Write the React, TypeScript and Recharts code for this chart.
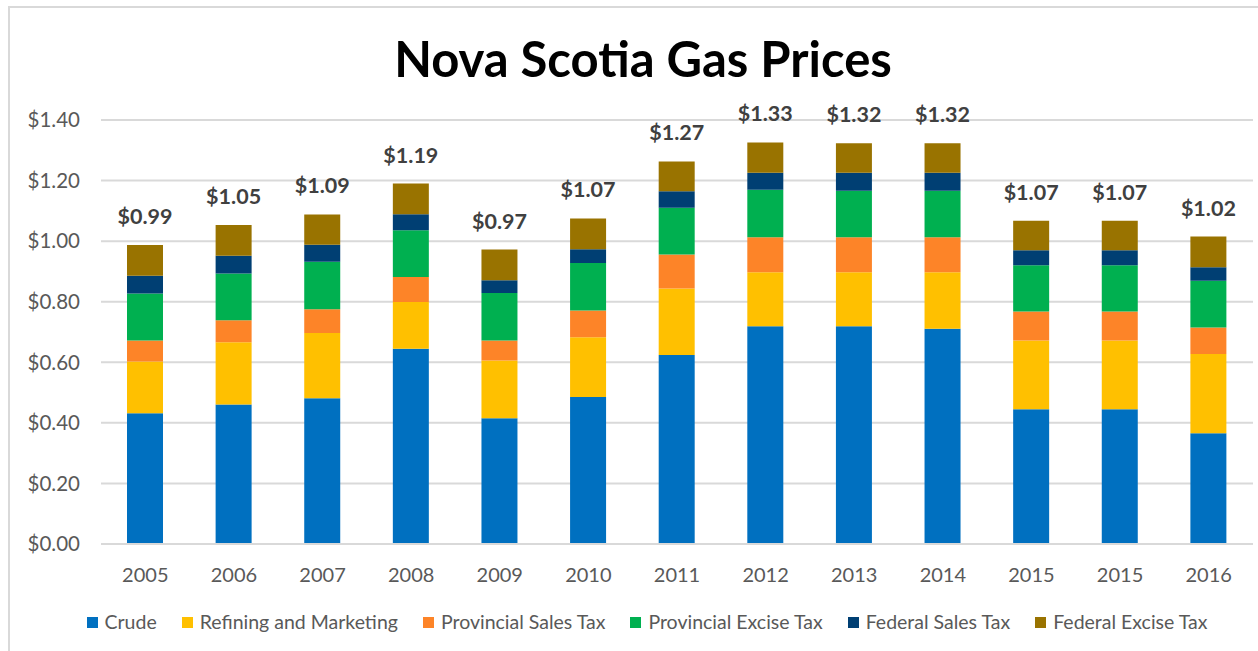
import { Bar, BarChart, CartesianGrid, LabelList, XAxis, YAxis } from "recharts";

const years = ["2005", "2006", "2007", "2008", "2009", "2010", "2011", "2012", "2013", "2014", "2015", "2015", "2016"];
const crude = [0.432, 0.461, 0.481, 0.645, 0.415, 0.485, 0.624, 0.719, 0.719, 0.711, 0.445, 0.445, 0.366];
const refining = [0.171, 0.205, 0.216, 0.154, 0.191, 0.198, 0.22, 0.178, 0.178, 0.186, 0.227, 0.227, 0.261];
const provSales = [0.069, 0.073, 0.078, 0.083, 0.066, 0.088, 0.112, 0.116, 0.116, 0.116, 0.096, 0.096, 0.088];
const provExcise = [0.155, 0.154, 0.157, 0.154, 0.157, 0.157, 0.154, 0.157, 0.153, 0.153, 0.152, 0.152, 0.154];
const fedSales = [0.059, 0.059, 0.056, 0.053, 0.042, 0.045, 0.055, 0.056, 0.06, 0.06, 0.05, 0.05, 0.045];
const fedExcise = [0.101, 0.101, 0.1, 0.101, 0.101, 0.102, 0.098, 0.1, 0.097, 0.097, 0.097, 0.097, 0.101];
const totals = [0.99, 1.05, 1.09, 1.19, 0.97, 1.07, 1.27, 1.33, 1.32, 1.32, 1.07, 1.07, 1.02];
const yTicks = [0, 0.2, 0.4, 0.6, 0.8, 1.0, 1.2, 1.4];

const series = [
  { key: "crude", name: "Crude", color: "#0070C0" },
  { key: "refining", name: "Refining and Marketing", color: "#FFC000" },
  { key: "provSales", name: "Provincial Sales Tax", color: "#FD8428" },
  { key: "provExcise", name: "Provincial Excise Tax", color: "#00B050" },
  { key: "fedSales", name: "Federal Sales Tax", color: "#003F73" },
  { key: "fedExcise", name: "Federal Excise Tax", color: "#997300" },
];

const data = years.map((year, i) => ({
  year,
  crude: crude[i],
  refining: refining[i],
  provSales: provSales[i],
  provExcise: provExcise[i],
  fedSales: fedSales[i],
  fedExcise: fedExcise[i],
}));

const FONT = "Lato, 'Open Sans', sans-serif";

// totals sit ~29px above the top segment, as in the Excel original
function TotalLabel(props: any) {
  const { x, y, width, index } = props;
  return (
    <text
      x={x + width / 2}
      y={y - 29}
      textAnchor="middle"
      dominantBaseline="central"
      fontFamily={FONT}
      fontWeight={700}
      fontSize={21.5}
      fill="#404040"
    >
      {`$${totals[index].toFixed(2)}`}
    </text>
  );
}

export default function App() {
  return (
    <div
      style={{
        position: "fixed",
        left: 8,
        top: 6,
        width: 1290,
        height: 700,
        border: "2px solid #d9d9d9",
        boxSizing: "border-box",
        background: "#fff",
        fontFamily: FONT,
      }}
    >
      <div
        style={{
          position: "absolute",
          left: 633,
          top: 26,
          transform: "translateX(-50%)",
          fontSize: 49,
          fontWeight: 700,
          lineHeight: 1,
          whiteSpace: "nowrap",
          color: "#000",
        }}
      >
        Nova Scotia Gas Prices
      </div>
      <BarChart
        width={1270}
        height={640}
        data={data}
        margin={{ top: 112, right: 27, left: 11, bottom: 64 }}
        barSize={36}
      >
        <CartesianGrid vertical={false} stroke="#d9d9d9" strokeWidth={2} />
        <XAxis
          dataKey="year"
          axisLine={{ stroke: "#d9d9d9", strokeWidth: 2 }}
          tickLine={false}
          tickSize={0}
          tickMargin={24}
          height={40}
          interval={0}
          tick={{ fill: "#595959", fontSize: 20, fontFamily: FONT }}
        />
        <YAxis
          domain={[0, 1.4]}
          ticks={yTicks}
          axisLine={false}
          tickLine={false}
          tickSize={0}
          tickMargin={21}
          width={80}
          tick={{ fill: "#595959", fontSize: 20.5, fontFamily: FONT }}
          tickFormatter={(v: number) => `$${v.toFixed(2)}`}
        />
        {series.map((s, i) => (
          <Bar key={s.key} dataKey={s.key} name={s.name} stackId="a" fill={s.color} isAnimationActive={false}>
            {i === series.length - 1 && <LabelList content={<TotalLabel />} />}
          </Bar>
        ))}
      </BarChart>
      <div
        style={{
          position: "absolute",
          left: 0,
          width: 1274,
          top: 603,
          display: "flex",
          justifyContent: "center",
          gap: 25,
          fontSize: 19.5,
          color: "#595959",
          lineHeight: "22px",
        }}
      >
        {series.map((s) => (
          <div key={s.key} style={{ display: "flex", alignItems: "center", gap: 7 }}>
            <span style={{ width: 11, height: 11, background: s.color, display: "inline-block" }} />
            <span>{s.name}</span>
          </div>
        ))}
      </div>
    </div>
  );
}
